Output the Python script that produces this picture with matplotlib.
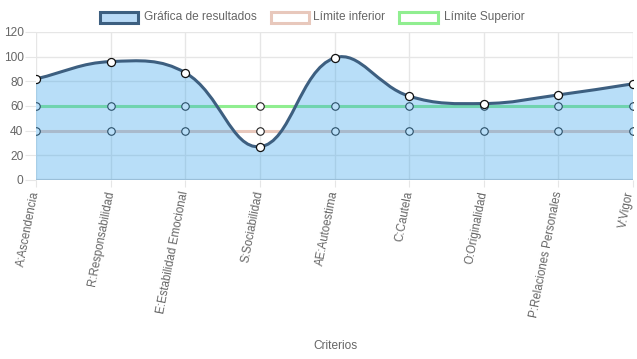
import numpy as np
import matplotlib
matplotlib.use("Agg")
import matplotlib.pyplot as plt
import matplotlib.transforms as mtransforms
from matplotlib.path import Path
from matplotlib.patches import PathPatch, Rectangle

plt.rcParams['font.family'] = ['Liberation Sans', 'DejaVu Sans']

categories = ["A:Ascendencia", "R:Responsabilidad", "E:Estabilidad Emocional",
              "S:Sociabilidad", "AE:Autoestima", "C:Cautela", "O:Originalidad",
              "P:Relaciones Personales", "V:Vigor"]
resultados = [82, 96, 87, 27, 99, 68, 62, 69, 78]
limite_inferior = [40, 40, 40, 40, 40, 40, 40, 40, 40]
limite_superior = [60, 60, 60, 60, 60, 60, 60, 60, 60]
y_ticks = [0, 20, 40, 60, 80, 100, 120]

W, H = 637, 359
fig = plt.figure(figsize=(W / 100, H / 100), dpi=100)
L, R, T, B = 36, 633, 32, 180
ax = fig.add_axes([L / W, 1 - B / H, (R - L) / W, (B - T) / H])
ax.set_xlim(0, len(categories) - 1)
ax.set_ylim(0, 120)

# pixel scales for the Chart.js-like spline
sx = (R - L) / (len(categories) - 1)
sy = (B - T) / 120.0


def spline_path(vals, tension=0.4):
    n = len(vals)
    xs = np.arange(n, dtype=float)
    ys = np.array(vals, dtype=float)
    P = np.column_stack([xs * sx, ys * sy])
    cp_prev = np.zeros_like(P)
    cp_next = np.zeros_like(P)
    for i in range(n):
        prev = P[i - 1] if i > 0 else P[i]
        nxt = P[i + 1] if i < n - 1 else P[i]
        cur = P[i]
        d01 = np.hypot(*(cur - prev))
        d12 = np.hypot(*(nxt - cur))
        tot = d01 + d12
        s01 = d01 / tot if tot else 0
        s12 = d12 / tot if tot else 0
        fa = tension * s01
        fb = tension * s12
        cp_prev[i] = cur - fa * (nxt - prev)
        cp_next[i] = cur + fb * (nxt - prev)
    for c in (cp_prev, cp_next):
        c[:, 1] = np.clip(c[:, 1], 0, 120 * sy)
    toD = lambda p: (p[0] / sx, p[1] / sy)
    verts = [toD(P[0])]
    codes = [Path.MOVETO]
    for i in range(1, n):
        verts += [toD(cp_next[i - 1]), toD(cp_prev[i]), toD(P[i])]
        codes += [Path.CURVE4] * 3
    return verts, codes


ax.grid(True, color='#e6e6e6', lw=1, zorder=0)
ax.set_axisbelow(True)
for s in ax.spines.values():
    s.set_visible(False)
ax.axhline(0, color='#d0d0d0', lw=1.6, zorder=1)

x = np.arange(len(categories))
green = '#90ee90'
peach = '#e8c8bc'
ax.plot(x, limite_inferior, color=peach, lw=2.2, zorder=2, solid_capstyle='butt')
ax.plot(x, limite_superior, color=green, lw=2.2, zorder=2, solid_capstyle='butt')
ax.plot(x, limite_inferior, ls='none', marker='o', ms=5.4, mfc='white', mec='#222', mew=0.8, zorder=3)
ax.plot(x, limite_superior, ls='none', marker='o', ms=5.4, mfc='white', mec='#222', mew=0.8, zorder=3)

verts, codes = spline_path(resultados)
fill_verts = verts + [(len(categories) - 1, 0), (0, 0), verts[0]]
fill_codes = codes + [Path.LINETO, Path.LINETO, Path.CLOSEPOLY]
ax.add_patch(PathPatch(Path(fill_verts, fill_codes), facecolor=(54 / 255, 162 / 255, 235 / 255, 0.35),
                       edgecolor='none', zorder=4))
ax.add_patch(PathPatch(Path(verts, codes), facecolor='none', edgecolor='#3d5f80', lw=2.2, zorder=5,
                       capstyle='round', joinstyle='round'))
ax.plot(x, resultados, ls='none', marker='o', ms=5.8, mfc='white', mec='#111', mew=0.9, zorder=6)

ax.set_yticks(y_ticks)
ax.set_yticklabels([str(v) for v in y_ticks])
ax.set_xticks(x)
ax.set_xticklabels(categories, rotation=79, ha='right', va='center', rotation_mode='anchor')
ax.tick_params(axis='y', length=8, color='#e6e6e6', labelcolor='#666666', labelsize=8.6, pad=1)
ax.tick_params(axis='x', length=5, color='#e6e6e6', labelcolor='#666666', labelsize=8.3, pad=3)
# nudge the last label slightly left so it stays inside the figure
last = ax.get_xticklabels()[-1]
last.set_transform(last.get_transform() + mtransforms.ScaledTranslation(-3 / 100, 0, fig.dpi_scale_trans))

fig.text(335 / W, 1 - 346 / H, 'Criterios', ha='center', va='center', fontsize=8.6, color='#666666')

# legend
legend_items = [
    ("Gráfica de resultados", 99.5, (185 / 255, 218 / 255, 246 / 255), '#3d5f80', 144),
    ("Límite inferior", 270.5, 'white', peach, 313),
    ("Límite Superior", 399.5, 'white', green, 444),
]
for label, bx, fc, ec, tx in legend_items:
    fig.add_artist(Rectangle((bx / W, 1 - 22.5 / H), 38 / W, 11 / H, transform=fig.transFigure,
                             facecolor=fc, edgecolor=ec, lw=2.2))
    fig.text(tx / W, 1 - 17 / H, label, ha='left', va='center', fontsize=8.6, color='#666666')

fig.savefig('out.png', dpi=100)
